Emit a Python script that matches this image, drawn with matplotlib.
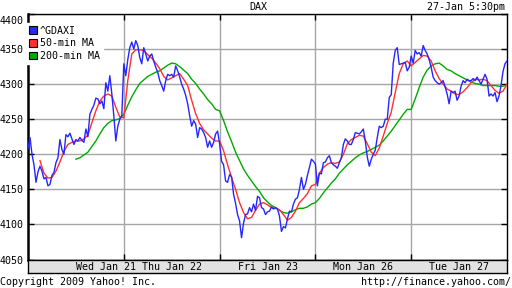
import numpy as np
import matplotlib
matplotlib.use('Agg')
import matplotlib.pyplot as plt
from matplotlib.patches import Patch
import matplotlib.transforms as mtransforms

nan = np.nan

# session labels under the chart
day_labels = ['Wed Jan 21', 'Thu Jan 22', 'Fri Jan 23', 'Mon Jan 26', 'Tue Jan 27']
label_pos = [0.81, 1.5, 2.5, 3.5, 4.5]
yticks = [4050, 4100, 4150, 4200, 4250, 4300, 4350, 4400]

# ^GDAXI, 48 readings per session (last session has the closing value too)
gdaxi_d1 = [4208, 4224, 4200, 4185, 4160, 4175, 4183, 4176, 4165, 4167, 4155, 4157,
            4170, 4174, 4188, 4195, 4221, 4207, 4200, 4228, 4225, 4230, 4222, 4214,
            4221, 4219, 4224, 4220, 4217, 4236, 4225, 4257, 4264, 4270, 4280, 4279,
            4272, 4276, 4265, 4302, 4290, 4312, 4286, 4255, 4219, 4240, 4250, 4255]
gdaxi_d2 = [4329, 4312, 4335, 4352, 4360, 4350, 4362, 4355, 4338, 4329, 4352, 4343,
            4333, 4340, 4343, 4333, 4324, 4317, 4305, 4298, 4290, 4305, 4314, 4312,
            4314, 4310, 4326, 4319, 4310, 4300, 4293, 4284, 4272, 4255, 4240, 4248,
            4243, 4224, 4238, 4236, 4231, 4224, 4210, 4219, 4210, 4217, 4229, 4233]
gdaxi_d3 = [4215, 4190, 4185, 4162, 4160, 4171, 4168, 4143, 4130, 4114, 4105, 4081,
            4102, 4114, 4115, 4124, 4118, 4129, 4120, 4140, 4138, 4124, 4122, 4114,
            4118, 4119, 4125, 4122, 4124, 4122, 4112, 4090, 4097, 4095, 4108, 4119,
            4118, 4129, 4136, 4138, 4150, 4167, 4150, 4157, 4170, 4181, 4193, 4190]
gdaxi_d4 = [4186, 4155, 4173, 4172, 4188, 4189, 4195, 4198, 4188, 4185, 4183, 4180,
            4188, 4195, 4214, 4222, 4219, 4214, 4214, 4221, 4231, 4230, 4229, 4232,
            4236, 4219, 4196, 4183, 4193, 4200, 4206, 4224, 4240, 4238, 4240, 4250,
            4250, 4281, 4285, 4330, 4348, 4352, 4328, 4329, 4330, 4331, 4319, 4324]
gdaxi_d5 = [4340, 4330, 4348, 4343, 4345, 4340, 4355, 4348, 4343, 4335, 4324, 4310,
            4305, 4302, 4300, 4302, 4305, 4296, 4286, 4272, 4290, 4288, 4290, 4277,
            4283, 4297, 4305, 4302, 4307, 4305, 4305, 4308, 4305, 4310, 4305, 4300,
            4307, 4314, 4307, 4283, 4286, 4283, 4288, 4275, 4283, 4298, 4318, 4329, 4333]

# moving averages, 24 readings per session
ma50_d1 = [nan, nan, nan, 4191, 4173, 4166, 4167, 4176, 4189, 4204, 4214, 4217,
           4219, 4219, 4222, 4227, 4245, 4262, 4276, 4283, 4286, 4283, 4267, 4253]
ma50_d2 = [4252, 4305, 4343, 4349, 4349, 4348, 4342, 4337, 4330, 4322, 4311, 4306,
           4309, 4312, 4315, 4307, 4298, 4277, 4258, 4244, 4235, 4229, 4223, 4219]
ma50_d3 = [4219, 4205, 4185, 4167, 4150, 4131, 4117, 4108, 4110, 4120, 4129, 4131,
           4128, 4124, 4123, 4121, 4114, 4106, 4110, 4119, 4131, 4137, 4144, 4155]
ma50_d4 = [4157, 4173, 4181, 4186, 4188, 4187, 4189, 4200, 4215, 4221, 4224, 4227,
           4226, 4215, 4203, 4198, 4209, 4226, 4244, 4260, 4288, 4315, 4329, 4333]
ma50_d5 = [4326, 4331, 4336, 4341, 4340, 4333, 4319, 4308, 4300, 4293, 4290, 4286,
           4285, 4289, 4295, 4302, 4307, 4306, 4307, 4305, 4298, 4291, 4287, 4290, 4300]

ma200_d1 = [nan] * 12 + [4193, 4195, 4199, 4203, 4211, 4219, 4229, 4238, 4244, 4248, 4249, 4251]
ma200_d2 = [4257, 4270, 4282, 4292, 4301, 4306, 4311, 4314, 4317, 4319, 4323, 4327,
            4330, 4329, 4325, 4320, 4315, 4307, 4301, 4293, 4286, 4278, 4272, 4264]
ma200_d3 = [4262, 4248, 4232, 4218, 4203, 4191, 4179, 4170, 4162, 4154, 4147, 4138,
            4132, 4127, 4124, 4120, 4117, 4116, 4118, 4121, 4123, 4123, 4125, 4129]
ma200_d4 = [4131, 4137, 4145, 4152, 4159, 4165, 4173, 4179, 4185, 4190, 4195, 4199,
            4202, 4204, 4207, 4210, 4213, 4219, 4226, 4233, 4241, 4249, 4257, 4264]
ma200_d5 = [4264, 4279, 4295, 4310, 4320, 4326, 4329, 4330, 4326, 4321, 4319, 4315,
            4312, 4309, 4306, 4303, 4301, 4300, 4298, 4298, 4298, 4298, 4297, 4297, 4299]

gdaxi = np.array(gdaxi_d1 + gdaxi_d2 + gdaxi_d3 + gdaxi_d4 + gdaxi_d5, dtype=float)
ma50 = np.array(ma50_d1 + ma50_d2 + ma50_d3 + ma50_d4 + ma50_d5, dtype=float)
ma200 = np.array(ma200_d1 + ma200_d2 + ma200_d3 + ma200_d4 + ma200_d5, dtype=float)
x_gdaxi = np.arange(len(gdaxi)) / 48.0
x_ma = np.arange(len(ma50)) / 24.0

BLUE = '#2626ff'
RED = '#ff3030'
GREEN = '#00aa00'
GRID = '#a6a6a6'
MONO = 'DejaVu Sans Mono'
FS = 7.2

W, H = 512.0, 288.0
fig = plt.figure(figsize=(5.12, 2.88), dpi=100)
ax = fig.add_axes([28 / W, (H - 259.5) / H, 479 / W, 245.5 / H])

ax.plot(x_ma, ma200, color=GREEN, lw=1.0, zorder=3)
ax.plot(x_ma, ma50, color=RED, lw=1.0, zorder=4)
ax.plot(x_gdaxi, gdaxi, color=BLUE, lw=1.0, zorder=5)

ax.set_xlim(0, 5)
ax.set_ylim(4050, 4400)
ax.set_xticks([1, 2, 3, 4])
ax.set_xticklabels([])
ax.set_yticks(yticks)
ax.set_yticklabels(['' if v == 4400 else str(v) for v in yticks],
                   fontfamily=MONO, fontsize=FS)
ax.tick_params(direction='in', length=4, width=1, color='black',
               top=True, right=True, pad=3)
ax.grid(True, color=GRID, lw=1.0, zorder=0)
ax.set_axisbelow(True)
for s in ax.spines.values():
    s.set_color('black')
    s.set_linewidth(1.0)
ax.spines['left'].set_linewidth(1.8)

# the top label sits a little lower so it stays inside the figure
top_tr = mtransforms.offset_copy(ax.get_yaxis_transform(), fig=fig, x=-4, y=-6.5, units='dots')
ax.text(0, 4400, '4400', transform=top_tr, ha='right', va='center',
        fontfamily=MONO, fontsize=FS)

handles = [Patch(facecolor=BLUE, edgecolor='black', lw=0.8),
           Patch(facecolor=RED, edgecolor='black', lw=0.8),
           Patch(facecolor=GREEN, edgecolor='black', lw=0.8)]
leg = ax.legend(handles, ['^GDAXI', '50-min MA', '200-min MA'], loc='upper left',
                bbox_to_anchor=(-0.004, 0.965), borderaxespad=0, frameon=True, framealpha=1,
                edgecolor='white', fancybox=False, handlelength=0.75, handleheight=0.75,
                handletextpad=0.3, labelspacing=0.28, borderpad=0.3,
                prop={'family': MONO, 'size': FS})
leg.set_zorder(10)

# date band
band = fig.add_axes([28 / W, (H - 273) / H, 479 / W, 13.5 / H], facecolor='#e2e2e2')
band.set_xlim(0, 5)
band.set_ylim(0, 1)
band.set_xticks([])
band.set_yticks([])
for s in band.spines.values():
    s.set_color('black')
    s.set_linewidth(1.0)
for p, lab in zip(label_pos, day_labels):
    band.text(p, 0.45, lab, ha='center', va='center', fontfamily=MONO, fontsize=FS)

fig.text(258 / W, 1 - 7 / H, 'DAX', ha='center', va='center', fontfamily=MONO, fontsize=FS)
fig.text(505 / W, 1 - 7 / H, '27-Jan 5:30pm', ha='right', va='center', fontfamily=MONO, fontsize=FS)
fig.text(0.5 / W, 1 - 282 / H, 'Copyright 2009 Yahoo! Inc.', ha='left', va='center',
         fontfamily=MONO, fontsize=FS)
fig.text(511.5 / W, 1 - 282 / H, 'http://finance.yahoo.com/', ha='right', va='center',
         fontfamily=MONO, fontsize=FS)

fig.savefig('out.png', dpi=100, facecolor='white')
